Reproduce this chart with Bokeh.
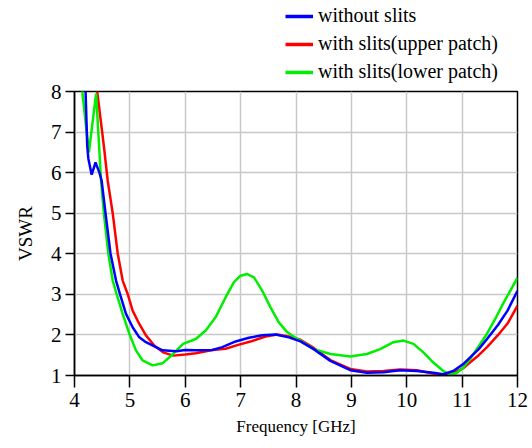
from bokeh.plotting import figure
from bokeh.layouts import column
from bokeh.models import Range1d, Legend, LegendItem, FixedTicker
from bokeh.embed import file_html
from bokeh.resources import INLINE

# without slits
f_blue = [4.12, 4.20, 4.23, 4.25, 4.31, 4.38, 4.45, 4.49, 4.56, 4.65, 4.75, 4.82, 4.93,
          5.05, 5.17, 5.29, 5.47, 5.59, 5.84, 6.00, 6.19, 6.49, 6.67, 6.91, 7.15, 7.39,
          7.63, 7.87, 8.08, 8.32, 8.62, 8.98, 9.28, 9.58, 9.88, 10.18, 10.48, 10.66,
          10.84, 11.02, 11.14, 11.30, 11.45, 11.65, 11.82, 12.00]
v_blue = [9.5, 8.0, 6.66, 6.35, 5.95, 6.25, 6.0, 5.80, 5.0, 4.01, 3.34, 3.01, 2.52,
          2.19, 1.94, 1.82, 1.70, 1.62, 1.60, 1.63, 1.62, 1.63, 1.70, 1.84, 1.93, 1.99,
          2.01, 1.94, 1.84, 1.65, 1.36, 1.13, 1.07, 1.08, 1.13, 1.11, 1.07, 1.03,
          1.11, 1.28, 1.44, 1.65, 1.90, 2.25, 2.60, 3.09]

# with slits (upper patch)
f_red = [4.30, 4.41, 4.53, 4.60, 4.69, 4.78, 4.87, 4.96, 5.05, 5.17, 5.29, 5.44, 5.60,
         5.78, 6.00, 6.19, 6.49, 6.73, 6.97, 7.21, 7.45, 7.66, 7.87, 8.08, 8.32, 8.62,
         8.98, 9.28, 9.58, 9.88, 10.18, 10.48, 10.66, 10.84, 11.02, 11.14, 11.30, 11.45,
         11.65, 11.82, 12.00]
v_red = [9.3, 8.0, 6.66, 5.80, 5.0, 4.01, 3.34, 3.01, 2.60, 2.27, 1.99, 1.74, 1.57,
         1.49, 1.52, 1.55, 1.63, 1.66, 1.76, 1.85, 1.96, 2.01, 1.96, 1.88, 1.68, 1.38,
         1.16, 1.10, 1.11, 1.15, 1.13, 1.05, 1.01, 1.05, 1.18, 1.32, 1.50, 1.70,
         2.00, 2.28, 2.72]

# with slits (lower patch)
f_green = [4.06, 4.14, 4.26, 4.39, 4.48, 4.53, 4.61, 4.69, 4.76, 4.87, 4.99, 5.11, 5.23,
           5.41, 5.59, 5.78, 5.96, 6.19, 6.37, 6.55, 6.73, 6.88, 7.00, 7.12, 7.24, 7.39,
           7.54, 7.69, 7.84, 7.99, 8.08, 8.32, 8.62, 8.98, 9.28, 9.52, 9.76, 9.94, 10.12,
           10.30, 10.48, 10.66, 10.78, 10.90, 11.02, 11.14, 11.30, 11.45, 11.60, 11.74,
           12.00]
v_green = [9.5, 8.0, 6.5, 7.95, 5.80, 5.0, 4.01, 3.34, 3.01, 2.52, 2.03, 1.62, 1.37,
           1.25, 1.30, 1.53, 1.78, 1.90, 2.11, 2.44, 2.93, 3.30, 3.46, 3.50, 3.42, 3.09,
           2.68, 2.31, 2.07, 1.93, 1.86, 1.65, 1.53, 1.47, 1.53, 1.65, 1.82, 1.86, 1.78,
           1.57, 1.32, 1.11, 1.03, 1.06, 1.19, 1.40, 1.72, 2.03, 2.40, 2.77,
           3.41]

labels = ["without slits", "with slits(upper patch)", "with slits(lower patch)"]
colors = ["#0000ff", "#ff0000", "#00ee00"]
x_ticks = [4, 5, 6, 7, 8, 9, 10, 11, 12]
y_ticks = [1, 2, 3, 4, 5, 6, 7, 8]
series = [(f_blue, v_blue), (f_red, v_red), (f_green, v_green)]

FONT = "Liberation Serif"

# ---- main plot ----
p = figure(width=532, height=365, output_backend="svg", toolbar_location=None,
           x_range=Range1d(4, 12), y_range=Range1d(1, 8),
           min_border_left=74, min_border_right=15, min_border_top=8, min_border_bottom=73)

p.outline_line_color = "black"
p.outline_line_width = 1.5
p.background_fill_color = "white"
p.border_fill_color = "white"

for ax in (p.xaxis[0], p.yaxis[0]):
    ax.axis_line_color = "black"
    ax.axis_line_width = 1.5
    ax.major_tick_line_color = "black"
    ax.major_tick_line_width = 1.5
    ax.major_tick_in = 0
    ax.minor_tick_line_color = None
    ax.major_label_text_font = FONT
    ax.major_label_text_font_size = "21px"
    ax.major_label_text_color = "black"
    ax.axis_label_text_font = FONT
    ax.axis_label_text_font_style = "normal"
    ax.axis_label_text_color = "black"

p.xaxis.ticker = FixedTicker(ticks=x_ticks)
p.yaxis.ticker = FixedTicker(ticks=y_ticks)
p.xaxis.major_tick_out = 12
p.yaxis.major_tick_out = 9
p.xaxis.major_label_standoff = 5
p.yaxis.major_label_standoff = 4
p.xaxis.axis_label = "Frequency [GHz]"
p.xaxis.axis_label_text_font_size = "17px"
p.xaxis.axis_label_standoff = 7
p.yaxis.axis_label = "VSWR"
p.yaxis.axis_label_text_font_size = "19px"
p.yaxis.axis_label_standoff = 12

p.grid.grid_line_color = "#c8c8c8"
p.grid.grid_line_width = 1.5

p.line(f_red, v_red, line_color=colors[1], line_width=2.5)
p.line(f_green, v_green, line_color=colors[2], line_width=2.5)
p.line(f_blue, v_blue, line_color=colors[0], line_width=2.5)

# ---- legend strip above the plot (its lines fall outside its own ranges) ----
lf = figure(width=532, height=83, output_backend="svg", toolbar_location=None,
            x_range=Range1d(0, 1), y_range=Range1d(0, 1),
            x_axis_location=None, y_axis_location=None,
            min_border_left=74, min_border_right=15, min_border_top=0, min_border_bottom=0)
lf.outline_line_color = None
lf.grid.visible = False
lf.background_fill_color = "white"
lf.border_fill_color = "white"

items = []
for lab, col, (fx, vy) in zip(labels, colors, series):
    r = lf.line(fx, vy, line_color=col, line_width=3.5)
    items.append(LegendItem(label=lab, renderers=[r]))

legend = Legend(items=items, location=(211, 0), orientation="vertical",
                glyph_width=28, glyph_height=22, label_height=22,
                label_standoff=5, spacing=5, padding=0, margin=0,
                label_text_font=FONT, label_text_font_size="20px",
                label_text_color="black",
                background_fill_alpha=0, border_line_color=None)
lf.add_layout(legend, "center")

layout = column(lf, p, spacing=0)
open("out.html", "w").write(file_html(layout, INLINE))
